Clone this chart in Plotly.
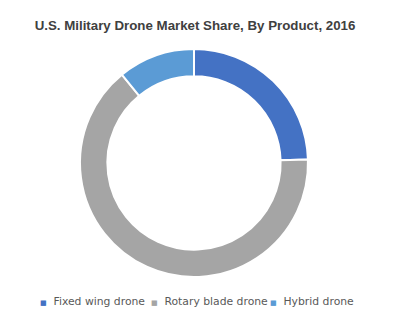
import plotly.graph_objects as go

categories = ["Fixed wing drone", "Rotary blade drone", "Hybrid drone"]
shares = [24.5, 64.6, 10.9]
colors = ["#4472C4", "#A5A5A5", "#5B9BD5"]
title_text = "U.S. Military Drone Market Share, By Product, 2016"

W, H = 402, 336
legend_px = [0, 111, 230]  # left edge of each legend box

fig = go.Figure()
fig.add_trace(go.Pie(
    labels=categories, values=shares, hole=0.76, sort=False, direction="clockwise",
    rotation=0, marker=dict(colors=colors, line=dict(color="white", width=2)),
    textinfo="none", hoverinfo="label+percent", showlegend=False,
    domain=dict(x=[80 / W, 308 / W], y=[(H - 277) / H, (H - 49) / H]),
))
legend_cfg = {}
for i, (name, c) in enumerate(zip(categories, colors)):
    key = "legend" if i == 0 else f"legend{i + 1}"
    label = f'<span style="color:{c};font-size:7px">■</span>  {name}'
    fig.add_trace(go.Scatter(x=[None], y=[None], mode="markers", name=label, legend=key,
                             marker=dict(symbol="square", size=4, color="rgba(0,0,0,0)",
                                         line=dict(width=0))))
    legend_cfg[key] = dict(
        orientation="h", x=legend_px[i] / W, xref="paper", xanchor="left",
        y=1 - 301 / H, yref="paper", yanchor="middle",
        font=dict(family="DejaVu Sans, Verdana", size=10.8, color="#595959"),
        itemwidth=30, bgcolor="rgba(0,0,0,0)",
    )

fig.update_layout(
    width=W, height=H,
    margin=dict(l=0, r=0, t=0, b=0),
    paper_bgcolor="white", plot_bgcolor="white",
    xaxis=dict(visible=False), yaxis=dict(visible=False),
    title=dict(text=f"<b>{title_text}</b>", x=195 / W, xref="container", xanchor="center",
               y=1 - 25 / H, yref="container", yanchor="middle",
               font=dict(family="Liberation Sans, Arial", size=13.3, color="#404040")),
    **legend_cfg,
)
fig.write_html("out.html")
